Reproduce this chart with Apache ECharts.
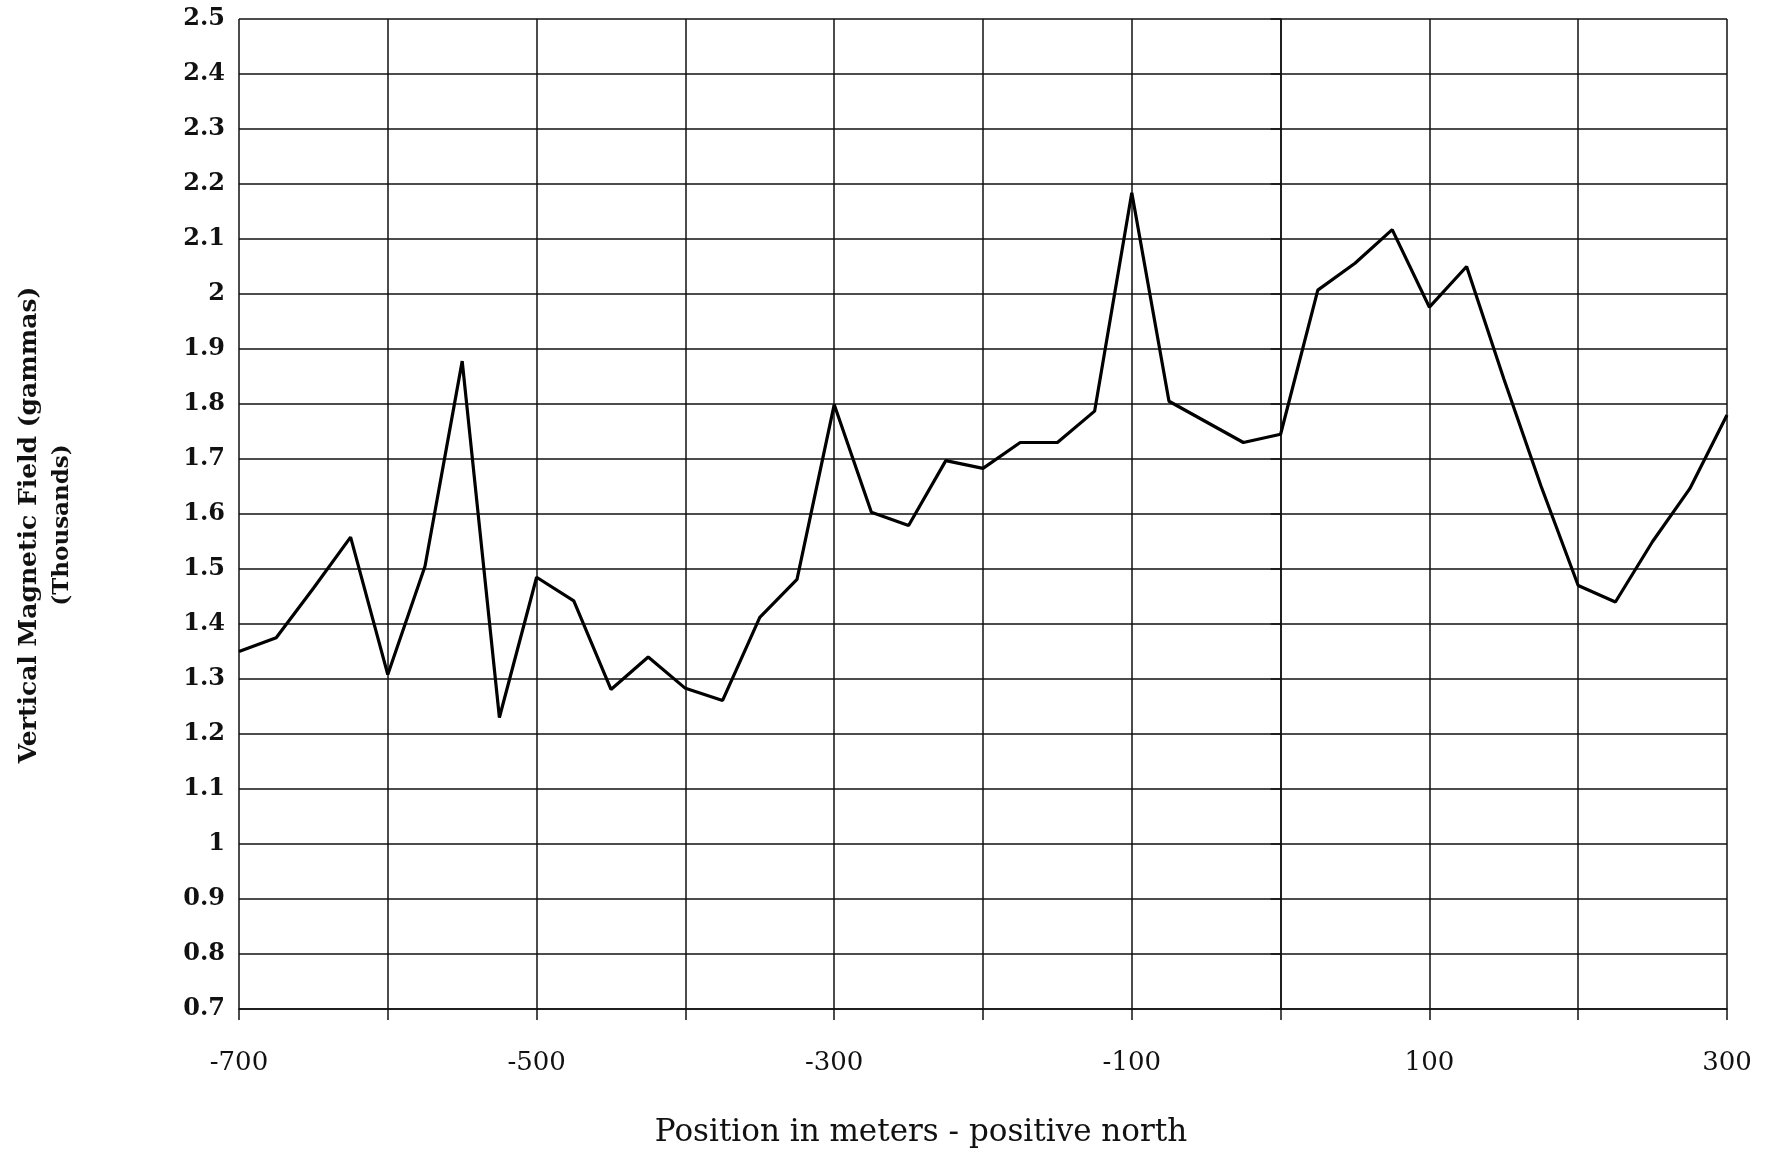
<!DOCTYPE html>
<html>
<head>
<meta charset="utf-8">
<script src="https://cdn.jsdelivr.net/npm/echarts@6/dist/echarts.min.js"></script>
<style>
  html, body { margin: 0; padding: 0; background: #ffffff; }
  #chart { width: 1773px; height: 1153px; }
</style>
</head>
<body>
<div id="chart"></div>
<script>
// Position in meters (positive north)
const positions = [-700, -675, -650, -625, -600, -575, -550, -525, -500, -475,
  -450, -425, -400, -375, -350, -325, -300, -275, -250, -225,
  -200, -175, -150, -125, -100, -75, -25, 0, 25, 50,
  75, 100, 125, 150, 175, 200, 225, 250, 275, 300];
// Vertical magnetic field (thousands of gammas)
const field = [1.350, 1.375, 1.465, 1.558, 1.308, 1.505, 1.878, 1.230, 1.485, 1.442,
  1.281, 1.340, 1.283, 1.261, 1.412, 1.481, 1.799, 1.603, 1.579, 1.697,
  1.683, 1.730, 1.730, 1.787, 2.184, 1.805, 1.730, 1.745, 2.007, 2.056,
  2.117, 1.976, 2.050, 1.846, 1.651, 1.470, 1.440, 1.550, 1.646, 1.780];
const xLabelValues = [-700, -500, -300, -100, 100, 300];
const xTitle = 'Position in meters - positive north';
const yTitle = 'Vertical Magnetic Field (gammas)';
const yTitle2 = '(Thousands)';

const chart = echarts.init(document.getElementById('chart'), null, { renderer: 'canvas' });
const lineData = positions.map((p, i) => [p, field[i]]);
const gridLine = { show: true, lineStyle: { color: '#111', width: 1.5, type: 'solid' } };

chart.setOption({
  backgroundColor: '#ffffff',
  animation: false,
  grid: { left: 239, right: 46, top: 19, bottom: 135, containLabel: false },
  xAxis: {
    type: 'value',
    min: -700, max: 300, interval: 100,
    axisLine: { show: true, onZero: false, lineStyle: { color: '#111', width: 1.5 } },
    axisTick: { show: true, inside: false, length: 11, lineStyle: { color: '#111', width: 1.5 } },
    splitLine: gridLine,
    axisLabel: {
      margin: 41,
      color: '#111',
      fontFamily: 'DejaVu Serif',
      fontSize: 26,
      formatter: v => xLabelValues.includes(Math.round(v)) ? String(Math.round(v)) : ''
    },
    name: xTitle,
    nameLocation: 'middle',
    nameGap: 108,
    nameTextStyle: {
      color: '#111', fontFamily: 'DejaVu Serif', fontSize: 31,
      padding: [0, 124, 0, 0]
    }
  },
  yAxis: {
    type: 'value',
    min: 0.7, max: 2.5, interval: 0.1,
    axisLine: { show: true, lineStyle: { color: '#111', width: 1.5 } },
    axisTick: { show: true, inside: false, length: 10, lineStyle: { color: '#111', width: 1.5 } },
    splitLine: gridLine,
    axisLabel: {
      margin: 14,
      color: '#111',
      fontFamily: 'DejaVu Serif',
      fontWeight: 'bold',
      fontSize: 24,
      formatter: v => String(Math.round(v * 10) / 10)
    },
    name: '{a|' + yTitle + '}\n{b|' + yTitle2 + '}',
    nameLocation: 'middle',
    nameGap: 160,
    nameRotate: 90,
    nameTextStyle: {
      align: 'center',
      padding: [0, 22, 0, 0],
      rich: {
        a: { fontFamily: 'DejaVu Serif', fontWeight: 'bold', fontSize: 25, color: '#111', lineHeight: 33, align: 'center' },
        b: { fontFamily: 'DejaVu Serif', fontWeight: 'bold', fontSize: 23, color: '#111', lineHeight: 33, align: 'center' }
      }
    }
  },
  series: [{
    type: 'line',
    data: lineData,
    symbol: 'none',
    lineStyle: { color: '#000', width: 3.2 },
    z: 5
  }]
});
</script>
</body>
</html>
